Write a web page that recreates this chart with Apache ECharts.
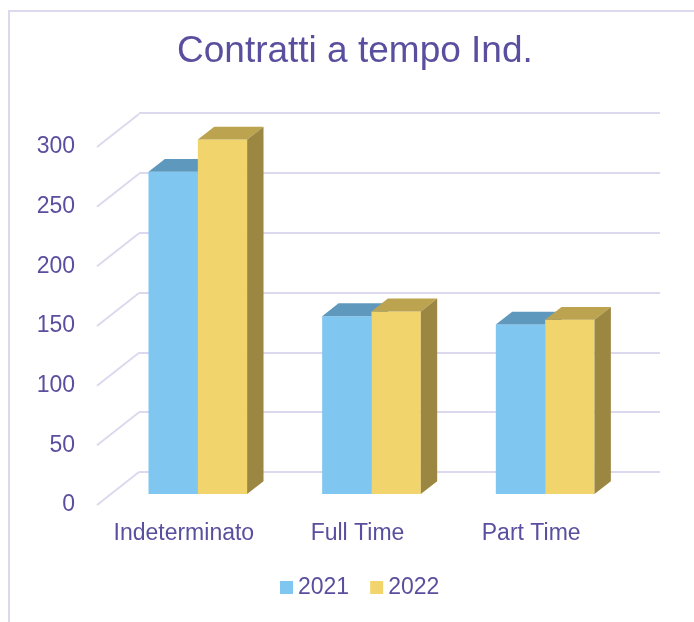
<!DOCTYPE html>
<html>
<head>
<meta charset="utf-8">
<script src="https://cdn.jsdelivr.net/npm/echarts@6/dist/echarts.min.js"></script>
<style>
html, body { margin: 0; padding: 0; background: #fff; }
#chart { width: 694px; height: 622px; }
</style>
</head>
<body>
<div id="chart"></div>
<script>
var categories = ['Indeterminato', 'Full Time', 'Part Time'];
var values2021 = [270, 149, 142];
var values2022 = [297, 153, 146];
var yTicks = [0, 50, 100, 150, 200, 250, 300];

var textColor = '#5a4f9e';
var gridColor = '#dcd9ee';
var fontFamily = '"Liberation Sans", Arial, sans-serif';
// depth of the fake 3d floor, in px
var depthX = 42, depthY = -33;

function barRenderer(slot, front, top, side) {
	return function (params, api) {
		var idx = api.value(0);
		var base = api.coord([idx, 0]);
		var tip = api.coord([idx, api.value(1)]);
		var band = api.size([1, 0])[0];
		var w = band * 0.284;
		var x0 = base[0] + (slot - 1) * w + depthX * 0.333;
		var yb = base[1] + depthY * 0.333;
		var yt = tip[1] + depthY * 0.333;
		var dx = depthX * 0.39, dy = depthY * 0.39;
		return {
			type: 'group',
			children: [
				{ type: 'rect', shape: { x: x0, y: yt, width: w, height: yb - yt }, style: { fill: front } },
				{ type: 'polygon', shape: { points: [[x0, yt], [x0 + w, yt], [x0 + w + dx, yt + dy], [x0 + dx, yt + dy]] }, style: { fill: top } },
				{ type: 'polygon', shape: { points: [[x0 + w, yt], [x0 + w + dx, yt + dy], [x0 + w + dx, yb + dy], [x0 + w, yb]] }, style: { fill: side } }
			]
		};
	};
}

var chart = echarts.init(document.getElementById('chart'));

var option = {
	animation: false,
	textStyle: { fontFamily: fontFamily },
	title: {
		text: 'Contratti a tempo Ind.',
		left: 177,
		top: 33,
		padding: 0,
		textStyle: { color: textColor, fontSize: 37, fontWeight: 'normal', fontFamily: fontFamily }
	},
	legend: {
		data: ['2021', '2022'],
		icon: 'rect',
		left: 275,
		top: 571,
		itemWidth: 13,
		itemHeight: 13,
		itemGap: 21,
		textStyle: { color: textColor, fontSize: 23, fontFamily: fontFamily, padding: [0, 0, 0, 0] }
	},
	graphic: [{
		type: 'polyline',
		shape: { points: [[9, 622], [9, 11], [694, 11]] },
		style: { stroke: gridColor, lineWidth: 2, fill: null }
	}],
	grid: [
		{ left: 97, right: 76, top: 147, bottom: 117 },
		{ left: 139, right: 34, top: 113, bottom: 150 }
	],
	xAxis: [
		{
			type: 'category',
			gridIndex: 0,
			data: categories,
			axisLine: { show: false },
			axisTick: { show: false },
			axisLabel: { color: textColor, fontSize: 23, margin: 17, interval: 0 }
		},
		{
			type: 'category',
			gridIndex: 1,
			data: categories,
			show: false
		}
	],
	yAxis: [
		{
			type: 'value',
			gridIndex: 0,
			min: 0,
			max: 300,
			interval: 50,
			axisLine: { show: false },
			axisTick: { show: false },
			splitLine: { show: false },
			axisLabel: { color: textColor, fontSize: 23, margin: 22 }
		},
		{
			type: 'value',
			gridIndex: 1,
			min: 0,
			max: 300,
			interval: 50,
			axisLine: { show: false },
			axisTick: { show: false },
			axisLabel: { show: false },
			splitLine: { lineStyle: { color: gridColor, width: 2 } }
		}
	],
	series: [
		{
			// side wall lines
			type: 'custom',
			xAxisIndex: 0,
			yAxisIndex: 0,
			silent: true,
			z: 1,
			data: yTicks.map(function (v) { return [0, v]; }),
			renderItem: function (params, api) {
				var p = api.coord([0, api.value(1)]);
				var x = p[0] - api.size([1, 0])[0] / 2;
				return {
					type: 'line',
					shape: { x1: x, y1: p[1], x2: x + depthX, y2: p[1] + depthY },
					style: { stroke: gridColor, lineWidth: 2 }
				};
			}
		},
		{
			name: '2021',
			type: 'custom',
			xAxisIndex: 0,
			yAxisIndex: 0,
			itemStyle: { color: '#7fc6f0' },
			data: values2021.map(function (v, i) { return [i, v]; }),
			encode: { x: 0, y: 1 },
			renderItem: barRenderer(0, '#7fc6f0', '#5f98bd', '#4f82a3')
		},
		{
			name: '2022',
			type: 'custom',
			xAxisIndex: 0,
			yAxisIndex: 0,
			itemStyle: { color: '#f2d46c' },
			data: values2022.map(function (v, i) { return [i, v]; }),
			encode: { x: 0, y: 1 },
			renderItem: barRenderer(1, '#f2d46c', '#bca34f', '#9c8742')
		}
	]
};
chart.setOption(option);
</script>
</body>
</html>
